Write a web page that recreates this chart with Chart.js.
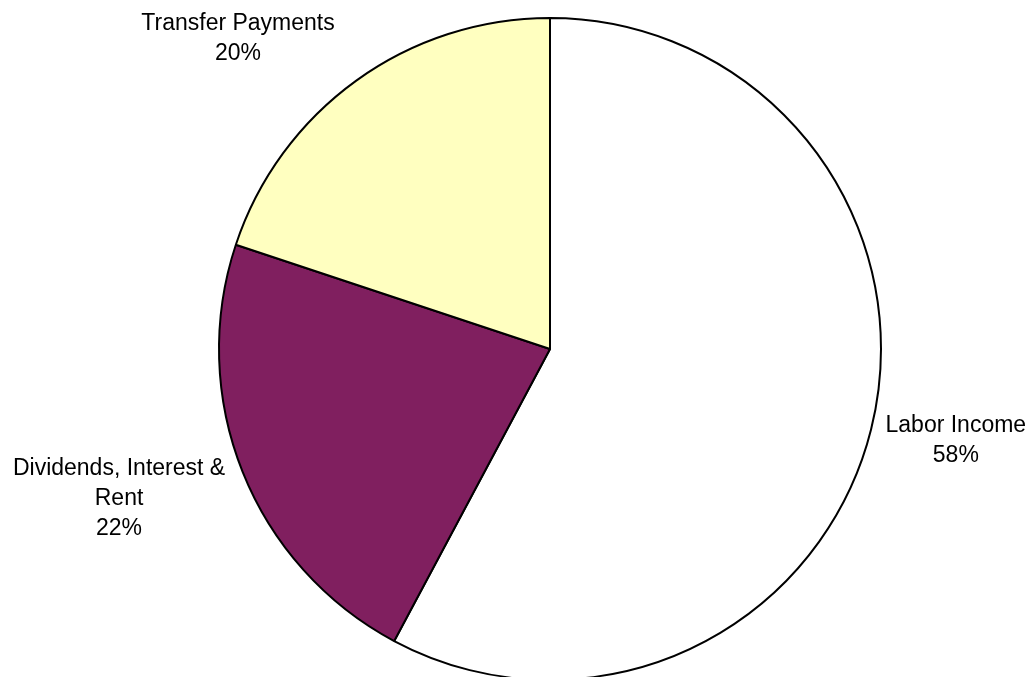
<!DOCTYPE html>
<html>
<head>
<meta charset="utf-8">
<script src="https://cdn.jsdelivr.net/npm/chart.js@4/dist/chart.umd.min.js"></script>
<style>
  html, body { margin: 0; padding: 0; background: #fff; overflow: hidden; }
  #wrap { width: 1031px; height: 700px; }
</style>
</head>
<body>
<div id="wrap"><canvas id="pieChart" width="1031" height="700"></canvas></div>
<script>
// Income sources (share of total, %)
const categories = [['Labor Income'], ['Dividends, Interest &', 'Rent'], ['Transfer Payments']];
const shares = [57.8, 22.3, 19.9];
const sliceColors = ['#ffffff', '#801f5f', '#ffffc0'];

// draws the category name + percent outside each slice
const outsideLabels = {
  id: 'outsideLabels',
  afterDatasetsDraw(chart) {
    const ctx = chart.ctx;
    const meta = chart.getDatasetMeta(0);
    const total = shares.reduce((a, b) => a + b, 0);
    const lineH = 30;
    const pad = 10;
    ctx.save();
    ctx.font = '23px "Liberation Sans", Arial, sans-serif';
    ctx.fillStyle = '#000';
    ctx.textAlign = 'center';
    ctx.textBaseline = 'middle';
    meta.data.forEach((arc, i) => {
      const lines = categories[i].concat([Math.round(shares[i] / total * 100) + '%']);
      const w = Math.max(...lines.map(l => ctx.measureText(l).width));
      const h = lines.length * lineH;
      const mid = (arc.startAngle + arc.endAngle) / 2;
      const dx = Math.cos(mid), dy = Math.sin(mid);
      const R = arc.outerRadius + pad;
      let x = arc.x + dx * R + dx * w / 2;
      let y = arc.y + dy * R + dy * h / 2;
      // nearest corner of the label box to the pie centre
      const corner = () => {
        const cx = x - Math.sign(dx) * w / 2, cy = y - Math.sign(dy) * h / 2;
        return Math.hypot(cx - arc.x, cy - arc.y);
      };
      let n = 0;
      while (corner() < R && n++ < 300) { x += dx; y += dy; }
      // keep inside the visible area; if clamped, slide sideways clear of the pie
      const yc = Math.max(9 + h / 2, Math.min(668 - h / 2, y));
      if (yc !== y) {
        y = yc;
        n = 0;
        while (corner() < R + 12 && n++ < 300) { x += Math.sign(dx); }
      }
      lines.forEach((l, k) => {
        ctx.fillText(l, x, y - h / 2 + lineH / 2 + k * lineH);
      });
    });
    ctx.restore();
  }
};

new Chart(document.getElementById('pieChart').getContext('2d'), {
  type: 'pie',
  data: {
    labels: categories.map(c => c.join(' ')),
    datasets: [{
      data: shares,
      backgroundColor: sliceColors,
      borderColor: '#000',
      borderWidth: 2
    }]
  },
  options: {
    responsive: false,
    animation: false,
    layout: { padding: { top: 17, left: 218, right: 149, bottom: 19 } },
    plugins: {
      legend: { display: false },
      tooltip: { enabled: false }
    }
  },
  plugins: [outsideLabels]
});
</script>
</body>
</html>
